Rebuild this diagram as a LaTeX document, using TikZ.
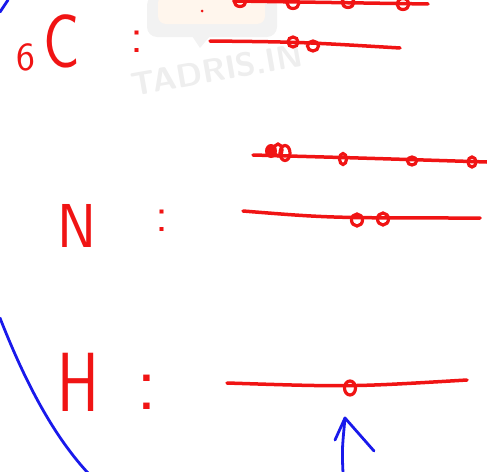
\documentclass[tikz,border=0pt]{standalone}
\usetikzlibrary{calc}
\definecolor{ink}{RGB}{240,20,20}
\definecolor{pen}{RGB}{25,25,235}
\tikzset{
  redline/.style={draw=ink,line width=3.5pt,line cap=round,line join=round},
  blueline/.style={draw=pen,line width=2.8pt,line cap=round,line join=round},
  orb/.style={draw=ink,line width=3.2pt},
  lbl/.style={text=ink,inner sep=0pt,font=\sffamily},
  wm/.style={text=gray!13,inner sep=0pt,font=\sffamily\bfseries}
}
\begin{document}
\begin{tikzpicture}[x=1pt,y=-1pt]
\useasboundingbox (0,0) rectangle (487,471);
% watermark
\fill[gray!10,rounded corners=10pt] (147,-5) rectangle (277,37);
\fill[orange!7,rounded corners=8pt] (158,-5) rectangle (265,24);
\fill[gray!10] (192,36) -- (200,48) -- (210,36) -- cycle;
\node[wm,rotate=10,font=\sffamily\bfseries\fontsize{33}{33}\selectfont] (wmark) at (217,70) {TADRIS.IN};
% blue strokes
\draw[blueline] (0,12) -- (8,0);
\draw[blueline] (0,318) .. controls (22,374) and (50,432) .. (88,473);
\coordinate (arrbot) at (343,473);
\coordinate (arrtip) at (345,418);
\draw[blueline] (arrbot) .. controls (342,450) .. (arrtip);
\draw[blueline] (335,440) -- (arrtip) -- (374,451);
% labels
\node[lbl,font=\sffamily\fontsize{40}{40}\selectfont] (six) at (26,57) {6};
\node[lbl,xscale=0.8,font=\sffamily\fontsize{76}{76}\selectfont] (carbon) at (62,41) {C};
\node[lbl,font=\sffamily\fontsize{50}{50}\selectfont] (colC) at (137,42) {:};
\node[lbl,xscale=0.95,font=\sffamily\fontsize{62}{62}\selectfont] (nitro) at (77,226) {N};
\node[lbl,font=\sffamily\fontsize{50}{50}\selectfont] (colN) at (162,221) {:};
\node[lbl,xscale=0.75,font=\sffamily\fontsize{84}{84}\selectfont] (hydro) at (78,382) {H};
\node[lbl,font=\sffamily\fontsize{80}{80}\selectfont] (colH) at (147,392) {:};
% tiny dot
\fill[ink] (202,11) circle (1.5);
% top line (cut)
\draw[redline] (235,1) -- (428,4);
\foreach \x/\y in {240/1,293/3,348/2,403/4}{\draw[orb] (\x,\y) ellipse (6 and 5.5);}
% C line
\draw[redline] (210,41) .. controls (300,42) .. (400,48);
\draw[orb] (293,42) ellipse (5 and 5);
\draw[orb] (313,46) ellipse (5.5 and 5);
% N upper line
\draw[redline] (253,155) .. controls (360,158) .. (487,162);
\fill[ink] (271,151) ellipse (6 and 7);
\draw[orb] (285,153) ellipse (5 and 7.5);
\draw[orb] (278,150) ellipse (4 and 6);
\draw[orb] (343,159) ellipse (3.5 and 5.5);
\draw[orb] (412,161) ellipse (4.5 and 4);
\draw[orb] (472,162) ellipse (4 and 5);
% N line
\draw[redline] (243,211) .. controls (330,218) .. (480,218);
\draw[orb] (357,220) ellipse (5.5 and 6);
\draw[orb] (383,219) ellipse (5.5 and 6);
% H line
\draw[redline] (227,383) .. controls (350,387) .. (467,380);
\draw[orb] (350,388) ellipse (5.5 and 7);
\end{tikzpicture}
\end{document}
